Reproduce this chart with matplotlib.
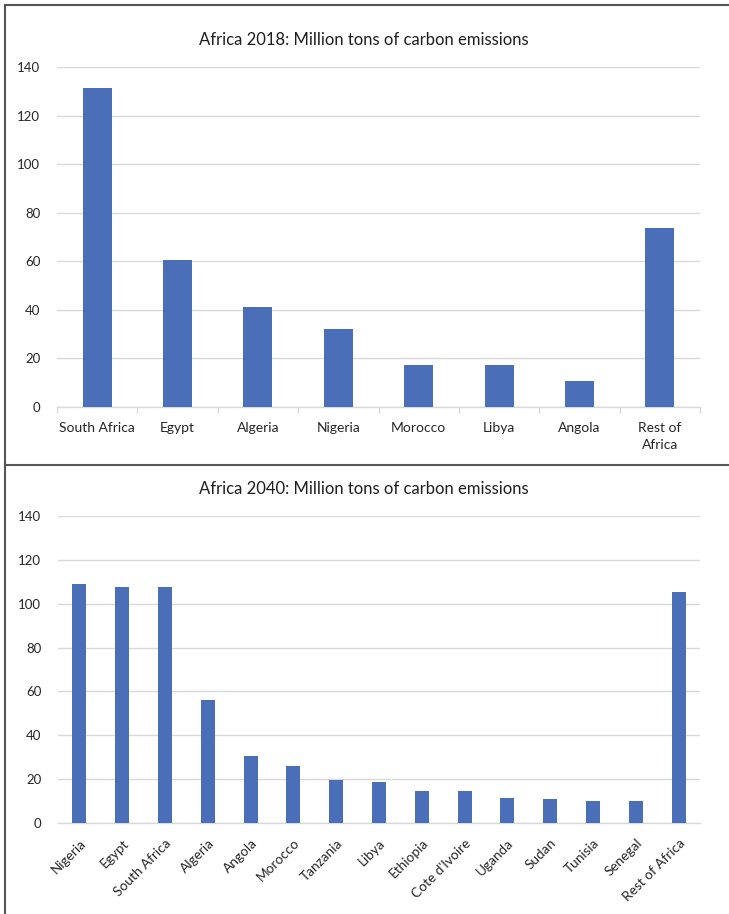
import matplotlib
matplotlib.use("Agg")
import matplotlib.pyplot as plt
from matplotlib.lines import Line2D
import numpy as np

plt.rcParams['font.family'] = ['Lato', 'DejaVu Sans']

cats_2018 = ["South Africa", "Egypt", "Algeria", "Nigeria", "Morocco", "Libya", "Angola", "Rest of\nAfrica"]
vals_2018 = [131.2, 60.4, 41.2, 32.3, 17.2, 17.2, 10.7, 73.8]

cats_2040 = ["Nigeria", "Egypt", "South Africa", "Algeria", "Angola", "Morocco", "Tanzania", "Libya",
             "Ethiopia", "Cote d'Ivoire", "Uganda", "Sudan", "Tunisia", "Senegal", "Rest of Africa"]
vals_2040 = [109.0, 107.8, 107.8, 55.9, 30.7, 26.1, 19.7, 18.5, 14.4, 14.4, 11.4, 10.9, 9.9, 9.9, 105.5]

yticks = [0, 20, 40, 60, 80, 100, 120, 140]
titles = ["Africa 2018: Million tons of carbon emissions", "Africa 2040: Million tons of carbon emissions"]

W, H = 729, 914
fig = plt.figure(figsize=(W / 100, H / 100), dpi=100)
fig.patch.set_facecolor("white")

BAR = "#4A6FB8"
GRID = "#D9D9D9"
TXT = "#262626"


def px_axes(x0, y_top, x1, y_bot):
    return fig.add_axes([x0 / W, 1 - y_bot / H, (x1 - x0) / W, (y_bot - y_top) / H])


def style(ax, cats, vals, width, rot):
    x = np.arange(len(cats))
    ax.bar(x, vals, width=width, color=BAR, zorder=3)
    ax.set_xlim(-0.5, len(cats) - 0.5)
    ax.set_ylim(0, 140)
    ax.set_yticks(yticks)
    ax.set_yticklabels([str(t) for t in yticks], fontsize=9.5, color=TXT)
    ax.grid(axis="y", color=GRID, linewidth=1, zorder=0)
    for s in ["top", "right", "left"]:
        ax.spines[s].set_visible(False)
    ax.spines["bottom"].set_color(GRID)
    ax.spines["bottom"].set_linewidth(1)
    ax.tick_params(axis="y", length=0, pad=12)
    ax.set_xticks(x)
    if rot:
        ax.set_xticklabels(cats, fontsize=9.8, color=TXT, rotation=45, ha="right", rotation_mode="anchor")
        ax.tick_params(axis="x", length=0, pad=10)
    else:
        ax.set_xticklabels(cats, fontsize=10, color=TXT, linespacing=1.45)
        ax.tick_params(axis="x", length=0, pad=11)
        ax.set_xticks(np.arange(len(cats) + 1) - 0.5, minor=True)
        ax.tick_params(axis="x", which="minor", length=4, color=GRID, width=1)


ax1 = px_axes(57, 67, 700, 407)
style(ax1, cats_2018, vals_2018, 0.36, False)
fig.text(364 / W, 1 - 40 / H, titles[0], ha="center", va="center", fontsize=12, color="#1e1e1e")

ax2 = px_axes(58, 516, 700, 823)
style(ax2, cats_2040, vals_2040, 0.33, True)
fig.text(364 / W, 1 - 489 / H, titles[1], ha="center", va="center", fontsize=12, color="#1e1e1e")

# panel borders
bc = "#555555"
fig.add_artist(Line2D([5 / W, 5 / W], [0, 1 - 5 / H], color=bc, linewidth=1.5, transform=fig.transFigure))
fig.add_artist(Line2D([5 / W, 1], [1 - 5 / H, 1 - 5 / H], color=bc, linewidth=1.5, transform=fig.transFigure))
fig.add_artist(Line2D([5 / W, 1], [1 - 465 / H, 1 - 465 / H], color=bc, linewidth=1.5, transform=fig.transFigure))

fig.savefig("out.png", dpi=100, facecolor="white")
